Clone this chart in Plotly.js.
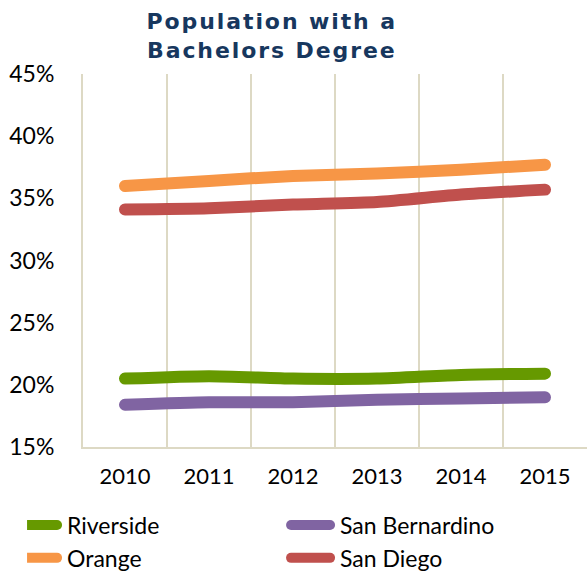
<!DOCTYPE html>
<html>
<head>
<meta charset="utf-8">
<script src="https://cdn.plot.ly/plotly-3.0.1.min.js"></script>
<style>
html,body{margin:0;padding:0;background:#fff;}
#chart{width:587px;height:573px;}
.js-line{stroke-linecap:round;}
.legendlines path{stroke-linecap:round;}
.gtitle{letter-spacing:1.9px;}
</style>
</head>
<body>
<div id="chart"></div>
<script>
const years = ['2010','2011','2012','2013','2014','2015'];
const riverside = [20.5, 20.7, 20.5, 20.5, 20.8, 20.9];
const sanBernardino = [18.4, 18.6, 18.6, 18.8, 18.9, 19.0];
const orange = [36.0, 36.4, 36.8, 37.0, 37.3, 37.7];
const sanDiego = [34.1, 34.2, 34.5, 34.7, 35.3, 35.7];
const yTicks = [15, 20, 25, 30, 35, 40, 45];

const series = [
  {name:'Riverside', y: riverside, color:'#669900'},
  {name:'San Bernardino', y: sanBernardino, color:'#8064A2'},
  {name:'Orange', y: orange, color:'#F79646'},
  {name:'San Diego', y: sanDiego, color:'#C0504D'}
];

const traces = series.map(s => ({
  type:'scatter', mode:'lines', name:s.name, x: years, y: s.y,
  line:{color:s.color, width:12, shape:'spline', smoothing:0.6},
  hoverinfo:'skip'
}));

const gridColor = '#DDD9C4';
const layout = {
  width:587, height:573,
  margin:{l:83, r:0, t:74, b:126, autoexpand:false},
  paper_bgcolor:'#fff', plot_bgcolor:'#fff',
  title:{text:'Population with a<br>Bachelors Degree', xref:'container', x:0.463, xanchor:'center',
    yref:'container', y:0.949, yanchor:'middle',
    font:{family:'DejaVu Sans, sans-serif', size:22, color:'#17375E', weight:'bold'}},
  font:{family:'Lato, sans-serif', color:'#000'},
  showlegend:true,
  legend:{orientation:'h', x:-0.111, xanchor:'left', y:-0.1515, yanchor:'top',
    entrywidth:228, entrywidthmode:'pixels', tracegroupgap:0,
    font:{family:'Lato, sans-serif', size:23, color:'#000'}},
  xaxis:{type:'category', range:[-0.5,5.5], tickson:'boundaries', showgrid:true, gridcolor:gridColor, gridwidth:2,
    showline:true, linecolor:gridColor, linewidth:2, ticks:'', ticklabelstandoff:9,
    tickfont:{family:'Lato, sans-serif', size:22, color:'#000'}, fixedrange:true},
  yaxis:{range:[15,45], tickvals:yTicks, ticktext:yTicks.map(v=>v+'%'), showgrid:false, zeroline:false,
    showline:true, linecolor:gridColor, linewidth:2, ticks:'outside', ticklen:22, tickcolor:'rgba(0,0,0,0)',
    tickfont:{family:'Lato, sans-serif', size:23, color:'#000'}, fixedrange:true}
};

function stretchLegendLines(gd){
  gd.querySelectorAll('.legendlines path, .legend .js-line').forEach(function(p){
    p.setAttribute('d','M-9,0h39');
  });
}
const gdEl = document.getElementById('chart');
Plotly.newPlot(gdEl, traces, layout, {displayModeBar:false, staticPlot:true}).then(function(gd){
  stretchLegendLines(gd);
  gd.on('plotly_afterplot', function(){ stretchLegendLines(gd); });
  setTimeout(function(){ stretchLegendLines(gd); }, 0);
});
</script>
</body>
</html>
